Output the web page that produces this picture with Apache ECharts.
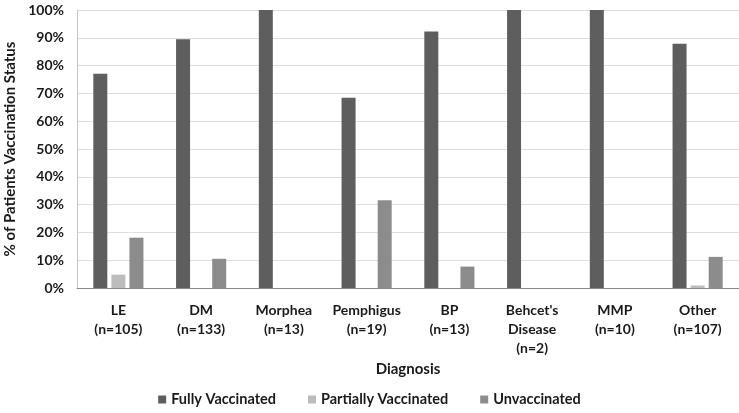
<!DOCTYPE html>
<html><head><meta charset="utf-8">
<script src="https://cdn.jsdelivr.net/npm/echarts@6/dist/echarts.min.js"></script>
<style>html,body{margin:0;padding:0;background:#fff}#c{width:739px;height:413px}</style>
</head><body><div id="c"></div>
<script>
var categories = ["LE\n(n=105)", "DM\n(n=133)", "Morphea\n(n=13)", "Pemphigus\n(n=19)", "BP\n(n=13)", "Behcet's\nDisease\n(n=2)", "MMP\n(n=10)", "Other\n(n=107)"];
var fullyVaccinated = [77.1, 89.5, 100, 68.4, 92.3, 100, 100, 87.9];
var partiallyVaccinated = [4.8, 0, 0, 0, 0, 0, 0, 0.9];
var unvaccinated = [18.1, 10.5, 0, 31.6, 7.7, 0, 0, 11.2];
var seriesNames = ["Fully Vaccinated", "Partially Vaccinated", "Unvaccinated"];
var colors = ["#5e5e5e", "#bcbcbc", "#8c8c8c"];
var font = "Lato, 'Open Sans', sans-serif";
var chart = echarts.init(document.getElementById('c'));
function mk(name, data, color) {
  return { name: name, type: 'bar', data: data, barWidth: 14, barGap: '29%', itemStyle: { color: color } };
}
chart.setOption({
  animation: false,
  textStyle: { fontFamily: font, fontWeight: 'bold', color: '#1a1a1a' },
  grid: { left: 77, right: 0, top: 10, bottom: 125, containLabel: false, outerBoundsMode: 'none' },
  legend: {
    bottom: 1, left: 'center', itemWidth: 8, itemHeight: 8, itemGap: 32, icon: 'rect',
    textStyle: { fontFamily: font, fontWeight: 'bold', fontSize: 14.5, color: '#1a1a1a' },
    data: seriesNames
  },
  xAxis: {
    type: 'category', data: categories,
    name: 'Diagnosis', nameLocation: 'middle', nameGap: 74, nameMoveOverlap: false,
    nameTextStyle: { fontFamily: font, fontWeight: 'bold', fontSize: 15, color: '#1a1a1a' },
    axisLine: { lineStyle: { color: '#8a8a8a' } },
    axisTick: { length: 5, lineStyle: { color: '#8a8a8a' } },
    axisLabel: { interval: 0, margin: 13, lineHeight: 19, fontFamily: font, fontWeight: 'bold', fontSize: 14, color: '#1a1a1a' }
  },
  yAxis: {
    type: 'value', min: 0, max: 100, interval: 10,
    name: '% of Patients Vaccination Status', nameLocation: 'middle', nameGap: 52,
    nameTextStyle: { fontFamily: font, fontWeight: 'bold', fontSize: 15, color: '#1a1a1a' },
    axisLine: { show: true, lineStyle: { color: '#c8c8c8' } },
    axisTick: { show: false },
    splitLine: { lineStyle: { color: '#dedede' } },
    axisLabel: { formatter: '{value}%', margin: 13, fontFamily: font, fontWeight: 'bold', fontSize: 14, color: '#1a1a1a' }
  },
  series: [
    mk(seriesNames[0], fullyVaccinated, colors[0]),
    mk(seriesNames[1], partiallyVaccinated, colors[1]),
    mk(seriesNames[2], unvaccinated, colors[2])
  ]
});
</script></body></html>
